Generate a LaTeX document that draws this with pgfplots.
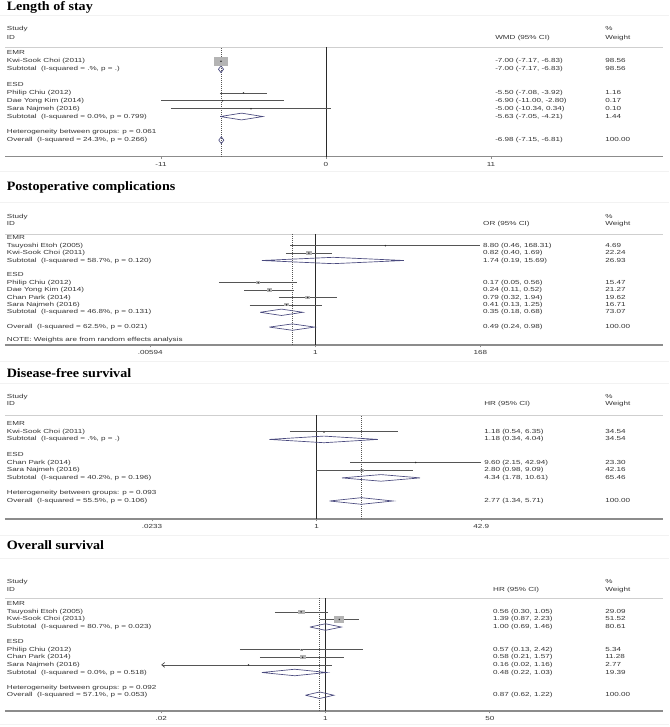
\documentclass[border=0pt]{standalone}
\usepackage{pgfplots}
\pgfplotsset{compat=1.18}
\usepackage{fontspec}
\usetikzlibrary{arrows.meta}
\setmainfont{Liberation Sans}
\newfontfamily\bodyfam[FakeStretch=1.38]{Liberation Sans}
\newfontfamily\titlefam[FakeStretch=1.1]{Liberation Serif}
\newcommand\bodyfont{\bodyfam\fontsize{4.4}{5}\selectfont}
\newcommand\titlefont{\titlefam\bfseries\fontsize{9.6}{11}\selectfont}

\definecolor{txtcol}{HTML}{333333}
\definecolor{cigray}{HTML}{555555}
\definecolor{boxgray}{HTML}{B4B4B4}
\definecolor{dotcol}{HTML}{2A2A2A}
\definecolor{diacol}{HTML}{4A4A7E}
\definecolor{axisgray}{HTML}{8C8C8C}
\definecolor{rulegray}{HTML}{CFCFCF}
\definecolor{nullcol}{HTML}{2A2A2A}
\definecolor{faint}{HTML}{F2F2F2}

% weight box: filled rectangle, 1.55 times wider than tall
\pgfdeclareplotmark{wbox}{%
  \pgfpathrectangle{\pgfpoint{-1.55\pgfplotmarksize}{-\pgfplotmarksize}}%
                   {\pgfpoint{3.1\pgfplotmarksize}{2\pgfplotmarksize}}%
  \pgfusepath{fill}}
\pgfdeclareplotmark{pdot}{%
  \pgfpathcircle{\pgfpointorigin}{\pgfplotmarksize}\pgfusepath{fill}}

\pgfplotsset{
  forest/.style={
    scale only axis, width=493.5pt, anchor=north west, clip=false,
    axis x line*=bottom, axis y line=none, ytick=\empty, minor xtick={},
    x axis line style={draw=axisgray, line width=0.9pt},
    xtick style={draw=axisgray, line width=0.5pt},
    tick align=outside, major tick length=1.8pt,
    xticklabel style={font=\bodyfont, text=txtcol, inner sep=0pt, anchor=north, yshift=-2.2pt},
  },
  ci/.style={draw=cigray, line width=0.55pt, mark=none},
  wb/.style={only marks, mark=wbox, color=boxgray, mark size=#1},
  est/.style={only marks, mark=pdot, color=dotcol, mark size=0.65pt},
  diam/.style={draw=diacol, line width=0.5pt, mark=none},
  nullline/.style={draw=nullcol, line width=0.6pt, mark=none},
  ovline/.style={draw=cigray, line width=0.5pt, dash pattern=on 0.75pt off 0.75pt, mark=none},
}
\tikzset{
  txt/.style={anchor=west, inner sep=0pt, font=\bodyfont, text=txtcol, text height=3.2pt, text depth=0.9pt},
  ttl/.style={anchor=base west, inner sep=0pt, font=\titlefont},
  larrow/.style={{Straight Barb[length=2.2pt,width=3.6pt]}-},
}
% text at column #1 (fraction of width), row #2
\newcommand\lbl[3]{\node[txt] at ({rel axis cs:#1,0}|-{axis cs:\xc,#2}) {#3};}
\newcommand\headrule{\draw[rulegray, line width=0.6pt] (axis description cs:0,1) -- (axis description cs:1,1);}
\def\cL{0.0026}
\def\cW{0.9119}

\begin{document}
\begin{tikzpicture}
\begin{scope}[x=0.75pt,y=-0.75pt]
  \path[use as bounding box] (0,0) rectangle (669,727);
  \foreach \yy in {16,172,202.5,361,383,535,558,724}
    \draw[faint, line width=0.75pt] (0,\yy) -- (669,\yy);
  \node[ttl] at (6.5,11) {Length of stay};
  \node[ttl] at (6.5,191) {Postoperative complications};
  \node[ttl] at (6.5,377.5) {Disease-free survival};
  \node[ttl] at (6.5,549) {Overall survival};
\end{scope}

% ---------- Length of stay ----------
\def\xc{0}\def\cE{0.7447}
\begin{axis}[forest, at={(3.75pt,-35.25pt)}, height=82.3pt,
  xmin=-21.4, xmax=22.467, ymin=-13.1, ymax=0.82,
  xtick={-11,0,11}, xticklabels={-11,0,11}]
\headrule
\addplot[nullline] coordinates {(0,-13.1) (0,0.82)};
\addplot[ovline] coordinates {(-6.98,-13.1) (-6.98,0.82)};
\addplot[wb=3.6pt] coordinates {(-7.00,-1)};
\addplot[ci] coordinates {(-7.17,-1) (-6.83,-1)};
\addplot[est] coordinates {(-7.00,-1)};
\addplot[diam] coordinates {(-7.17,-2) (-7.00,-1.57) (-6.83,-2) (-7.00,-2.43) (-7.17,-2)};
\addplot[ci] coordinates {(-7.08,-5) (-3.92,-5)};
\addplot[est] coordinates {(-5.50,-5)};
\addplot[ci] coordinates {(-11.00,-6) (-2.80,-6)};
\addplot[est] coordinates {(-6.90,-6)};
\addplot[ci] coordinates {(-10.34,-7) (0.34,-7)};
\addplot[est] coordinates {(-5.00,-7)};
\addplot[diam] coordinates {(-7.05,-8) (-5.63,-7.57) (-4.21,-8) (-5.63,-8.43) (-7.05,-8)};
\addplot[diam] coordinates {(-7.15,-11) (-6.98,-10.57) (-6.81,-11) (-6.98,-11.43) (-7.15,-11)};
\lbl{\cL}{3.07}{Study}
\lbl{\cL}{2.0}{ID}
\lbl{\cE}{2.0}{WMD (95\% CI)}
\lbl{\cW}{3.07}{\%}
\lbl{\cW}{2.0}{Weight}
\lbl{\cL}{0}{EMR}
\lbl{\cL}{-1}{Kwi-Sook Choi (2011)}
\lbl{\cE}{-1}{-7.00 (-7.17, -6.83)}
\lbl{\cW}{-1}{98.56}
\lbl{\cL}{-2}{Subtotal\ \ (I-squared = .\%, p = .)}
\lbl{\cE}{-2}{-7.00 (-7.17, -6.83)}
\lbl{\cW}{-2}{98.56}
\lbl{\cL}{-4}{ESD}
\lbl{\cL}{-5}{Philip Chiu (2012)}
\lbl{\cE}{-5}{-5.50 (-7.08, -3.92)}
\lbl{\cW}{-5}{1.16}
\lbl{\cL}{-6}{Dae Yong Kim (2014)}
\lbl{\cE}{-6}{-6.90 (-11.00, -2.80)}
\lbl{\cW}{-6}{0.17}
\lbl{\cL}{-7}{Sara Najmeh (2016)}
\lbl{\cE}{-7}{-5.00 (-10.34, 0.34)}
\lbl{\cW}{-7}{0.10}
\lbl{\cL}{-8}{Subtotal\ \ (I-squared = 0.0\%, p = 0.799)}
\lbl{\cE}{-8}{-5.63 (-7.05, -4.21)}
\lbl{\cW}{-8}{1.44}
\lbl{\cL}{-10}{Heterogeneity between groups: p = 0.061}
\lbl{\cL}{-11}{Overall\ \ (I-squared = 24.3\%, p = 0.266)}
\lbl{\cE}{-11}{-6.98 (-7.15, -6.81)}
\lbl{\cW}{-11}{100.00}
\end{axis}

% ---------- Postoperative complications ----------
\def\xc{1}\def\cE{0.7264}
\begin{axis}[forest, xmode=log, at={(3.75pt,-175.5pt)}, height=83.25pt,
  xmin=6.53e-5, xmax=48900, ymin=-14.42, ymax=0.58,
  xtick={0.00594,1,168}, xticklabels={.00594,1,168}]
\headrule
\addplot[nullline] coordinates {(1,-14.42) (1,0.58)};
\addplot[ovline] coordinates {(0.49,-14.42) (0.49,0.58)};
\addplot[ci] coordinates {(0.46,-1) (168.31,-1)};
\addplot[est] coordinates {(8.80,-1)};
\addplot[wb=1.25pt] coordinates {(0.82,-2)};
\addplot[ci] coordinates {(0.40,-2) (1.69,-2)};
\addplot[est] coordinates {(0.82,-2)};
\addplot[diam] coordinates {(0.19,-3) (1.74,-2.57) (15.69,-3) (1.74,-3.43) (0.19,-3)};
\addplot[wb=1.05pt] coordinates {(0.17,-6)};
\addplot[ci] coordinates {(0.05,-6) (0.56,-6)};
\addplot[est] coordinates {(0.17,-6)};
\addplot[wb=1.2pt] coordinates {(0.24,-7)};
\addplot[ci] coordinates {(0.11,-7) (0.52,-7)};
\addplot[est] coordinates {(0.24,-7)};
\addplot[wb=1.2pt] coordinates {(0.79,-8)};
\addplot[ci] coordinates {(0.32,-8) (1.94,-8)};
\addplot[est] coordinates {(0.79,-8)};
\addplot[wb=1.1pt] coordinates {(0.41,-9)};
\addplot[ci] coordinates {(0.13,-9) (1.25,-9)};
\addplot[est] coordinates {(0.41,-9)};
\addplot[diam] coordinates {(0.18,-10) (0.35,-9.57) (0.68,-10) (0.35,-10.43) (0.18,-10)};
\addplot[diam] coordinates {(0.24,-12) (0.49,-11.57) (0.98,-12) (0.49,-12.43) (0.24,-12)};
\lbl{\cL}{2.92}{Study}
\lbl{\cL}{1.89}{ID}
\lbl{\cE}{1.89}{OR (95\% CI)}
\lbl{\cW}{2.92}{\%}
\lbl{\cW}{1.89}{Weight}
\lbl{\cL}{0}{EMR}
\lbl{\cL}{-1}{Tsuyoshi Etoh (2005)}
\lbl{\cE}{-1}{8.80 (0.46, 168.31)}
\lbl{\cW}{-1}{4.69}
\lbl{\cL}{-2}{Kwi-Sook Choi (2011)}
\lbl{\cE}{-2}{0.82 (0.40, 1.69)}
\lbl{\cW}{-2}{22.24}
\lbl{\cL}{-3}{Subtotal\ \ (I-squared = 58.7\%, p = 0.120)}
\lbl{\cE}{-3}{1.74 (0.19, 15.69)}
\lbl{\cW}{-3}{26.93}
\lbl{\cL}{-5}{ESD}
\lbl{\cL}{-6}{Philip Chiu (2012)}
\lbl{\cE}{-6}{0.17 (0.05, 0.56)}
\lbl{\cW}{-6}{15.47}
\lbl{\cL}{-7}{Dae Yong Kim (2014)}
\lbl{\cE}{-7}{0.24 (0.11, 0.52)}
\lbl{\cW}{-7}{21.27}
\lbl{\cL}{-8}{Chan Park (2014)}
\lbl{\cE}{-8}{0.79 (0.32, 1.94)}
\lbl{\cW}{-8}{19.62}
\lbl{\cL}{-9}{Sara Najmeh (2016)}
\lbl{\cE}{-9}{0.41 (0.13, 1.25)}
\lbl{\cW}{-9}{16.71}
\lbl{\cL}{-10}{Subtotal\ \ (I-squared = 46.8\%, p = 0.131)}
\lbl{\cE}{-10}{0.35 (0.18, 0.68)}
\lbl{\cW}{-10}{73.07}
\lbl{\cL}{-12}{Overall\ \ (I-squared = 62.5\%, p = 0.021)}
\lbl{\cE}{-12}{0.49 (0.24, 0.98)}
\lbl{\cW}{-12}{100.00}
\lbl{\cL}{-13.68}{NOTE: Weights are from random effects analysis}
\end{axis}

% ---------- Disease-free survival ----------
\def\xc{1}\def\cE{0.7280}
\begin{axis}[forest, xmode=log, at={(3.75pt,-311.25pt)}, height=78pt,
  xmin=8.11e-4, xmax=2716, ymin=-12.34, ymax=1.17,
  xtick={0.0233,1,42.9}, xticklabels={.0233,1,42.9}]
\headrule
\addplot[nullline] coordinates {(1,-12.34) (1,1.17)};
\addplot[ovline] coordinates {(2.77,-12.34) (2.77,1.17)};
\addplot[wb=0.7pt] coordinates {(1.18,-1)};
\addplot[ci] coordinates {(0.54,-1) (6.35,-1)};
\addplot[est] coordinates {(1.18,-1)};
\addplot[diam] coordinates {(0.34,-2) (1.18,-1.57) (4.04,-2) (1.18,-2.43) (0.34,-2)};
\addplot[ci] coordinates {(2.15,-5) (42.94,-5)};
\addplot[est] coordinates {(9.60,-5)};
\addplot[wb=1.0pt] coordinates {(2.80,-6)};
\addplot[ci] coordinates {(0.98,-6) (9.09,-6)};
\addplot[est] coordinates {(2.80,-6)};
\addplot[diam] coordinates {(1.78,-7) (4.34,-6.57) (10.61,-7) (4.34,-7.43) (1.78,-7)};
\addplot[diam] coordinates {(1.34,-10) (2.77,-9.57) (5.71,-10) (2.77,-10.43) (1.34,-10)};
\lbl{\cL}{3.55}{Study}
\lbl{\cL}{2.56}{ID}
\lbl{\cE}{2.56}{HR (95\% CI)}
\lbl{\cW}{3.55}{\%}
\lbl{\cW}{2.56}{Weight}
\lbl{\cL}{0}{EMR}
\lbl{\cL}{-1}{Kwi-Sook Choi (2011)}
\lbl{\cE}{-1}{1.18 (0.54, 6.35)}
\lbl{\cW}{-1}{34.54}
\lbl{\cL}{-2}{Subtotal\ \ (I-squared = .\%, p = .)}
\lbl{\cE}{-2}{1.18 (0.34, 4.04)}
\lbl{\cW}{-2}{34.54}
\lbl{\cL}{-4}{ESD}
\lbl{\cL}{-5}{Chan Park (2014)}
\lbl{\cE}{-5}{9.60 (2.15, 42.94)}
\lbl{\cW}{-5}{23.30}
\lbl{\cL}{-6}{Sara Najmeh (2016)}
\lbl{\cE}{-6}{2.80 (0.98, 9.09)}
\lbl{\cW}{-6}{42.16}
\lbl{\cL}{-7}{Subtotal\ \ (I-squared = 40.2\%, p = 0.196)}
\lbl{\cE}{-7}{4.34 (1.78, 10.61)}
\lbl{\cW}{-7}{65.46}
\lbl{\cL}{-9}{Heterogeneity between groups: p = 0.093}
\lbl{\cL}{-10}{Overall\ \ (I-squared = 55.5\%, p = 0.106)}
\lbl{\cE}{-10}{2.77 (1.34, 5.71)}
\lbl{\cW}{-10}{100.00}
\end{axis}

% ---------- Overall survival ----------
\def\xc{1}\def\cE{0.7416}
\begin{axis}[forest, xmode=log, at={(3.75pt,-448.73pt)}, height=84.5pt,
  xmin=4.85e-4, xmax=3091, ymin=-14.08, ymax=0.79,
  xtick={0.02,1,50}, xticklabels={.02,1,50}]
\headrule
\addplot[nullline] coordinates {(1,-14.08) (1,0.79)};
\addplot[ovline] coordinates {(0.87,-14.08) (0.87,0.79)};
\addplot[wb=1.75pt] coordinates {(0.56,-1)};
\addplot[ci] coordinates {(0.30,-1) (1.05,-1)};
\addplot[est] coordinates {(0.56,-1)};
\addplot[wb=2.5pt] coordinates {(1.39,-2)};
\addplot[ci] coordinates {(0.87,-2) (2.23,-2)};
\addplot[est] coordinates {(1.39,-2)};
\addplot[diam] coordinates {(0.69,-3) (1.00,-2.57) (1.46,-3) (1.00,-3.43) (0.69,-3)};
\addplot[wb=0.75pt] coordinates {(0.57,-6)};
\addplot[ci] coordinates {(0.13,-6) (2.42,-6)};
\addplot[est] coordinates {(0.57,-6)};
\addplot[wb=1.4pt] coordinates {(0.58,-7)};
\addplot[ci] coordinates {(0.21,-7) (1.57,-7)};
\addplot[est] coordinates {(0.58,-7)};
\addplot[ci, larrow] coordinates {(0.02,-8) (1.16,-8)};
\addplot[est] coordinates {(0.16,-8)};
\addplot[diam] coordinates {(0.22,-9) (0.48,-8.57) (1.03,-9) (0.48,-9.43) (0.22,-9)};
\addplot[diam] coordinates {(0.62,-12) (0.87,-11.57) (1.22,-12) (0.87,-12.43) (0.62,-12)};
\lbl{\cL}{2.98}{Study}
\lbl{\cL}{1.89}{ID}
\lbl{\cE}{1.89}{HR (95\% CI)}
\lbl{\cW}{2.98}{\%}
\lbl{\cW}{1.89}{Weight}
\lbl{\cL}{0}{EMR}
\lbl{\cL}{-1}{Tsuyoshi Etoh (2005)}
\lbl{\cE}{-1}{0.56 (0.30, 1.05)}
\lbl{\cW}{-1}{29.09}
\lbl{\cL}{-2}{Kwi-Sook Choi (2011)}
\lbl{\cE}{-2}{1.39 (0.87, 2.23)}
\lbl{\cW}{-2}{51.52}
\lbl{\cL}{-3}{Subtotal\ \ (I-squared = 80.7\%, p = 0.023)}
\lbl{\cE}{-3}{1.00 (0.69, 1.46)}
\lbl{\cW}{-3}{80.61}
\lbl{\cL}{-5}{ESD}
\lbl{\cL}{-6}{Philip Chiu (2012)}
\lbl{\cE}{-6}{0.57 (0.13, 2.42)}
\lbl{\cW}{-6}{5.34}
\lbl{\cL}{-7}{Chan Park (2014)}
\lbl{\cE}{-7}{0.58 (0.21, 1.57)}
\lbl{\cW}{-7}{11.28}
\lbl{\cL}{-8}{Sara Najmeh (2016)}
\lbl{\cE}{-8}{0.16 (0.02, 1.16)}
\lbl{\cW}{-8}{2.77}
\lbl{\cL}{-9}{Subtotal\ \ (I-squared = 0.0\%, p = 0.518)}
\lbl{\cE}{-9}{0.48 (0.22, 1.03)}
\lbl{\cW}{-9}{19.39}
\lbl{\cL}{-11}{Heterogeneity between groups: p = 0.092}
\lbl{\cL}{-12}{Overall\ \ (I-squared = 57.1\%, p = 0.053)}
\lbl{\cE}{-12}{0.87 (0.62, 1.22)}
\lbl{\cW}{-12}{100.00}
\end{axis}
\end{tikzpicture}
\end{document}
